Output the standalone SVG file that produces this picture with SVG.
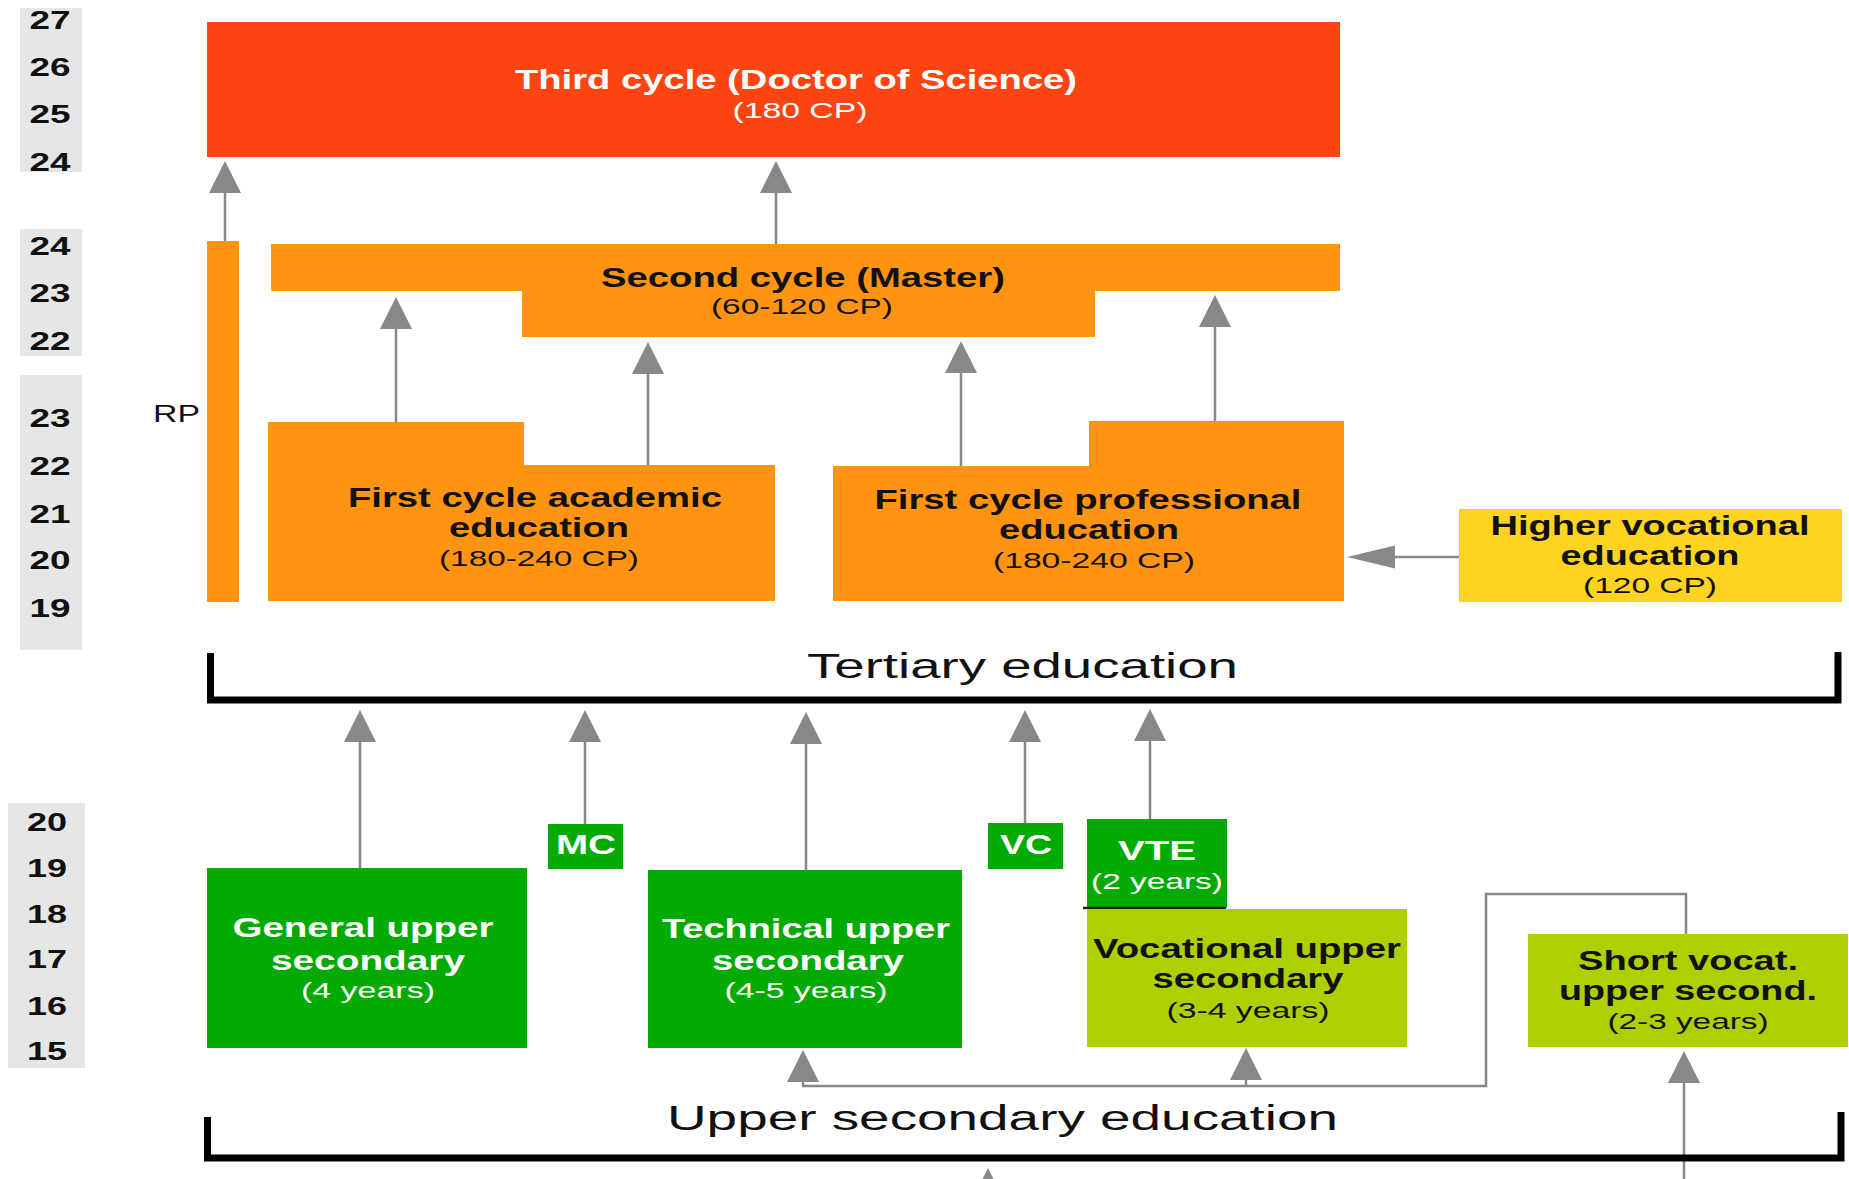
<svg xmlns="http://www.w3.org/2000/svg" width="1849" height="1179" viewBox="0 0 1849 1179">
<style>
text { font-family: "Liberation Sans", Arial, sans-serif; }
.age { font-weight: bold; font-size: 25px; fill: #111; text-anchor: middle; }
.agebg { fill: #E6E6E6; }
.lb { font-weight: bold; font-size: 27px; text-anchor: middle; }
.sub { font-size: 22px; text-anchor: middle; }
.cap { font-size: 35px; fill: #111; }
.w { fill: #fff; }
.k { fill: #111; }
.red { fill: #FE4511; }
.org { fill: #FE9411; }
.yel { fill: #FED321; }
.grn { fill: #02AA02; }
.lime { fill: #AECF01; }
.conn { stroke: #888; stroke-width: 2.5; fill: none; }
.brk { stroke: #000; stroke-width: 7; fill: none; stroke-linejoin: miter; }
</style>
<defs>
<marker id="up" markerUnits="userSpaceOnUse" orient="auto" markerWidth="32" markerHeight="32" refX="0" refY="16" overflow="visible">
<path d="M0,0 L32,16 L0,32 Z" fill="#888"/>
</marker>
<marker id="hz" markerUnits="userSpaceOnUse" orient="auto" markerWidth="48" markerHeight="23" refX="0" refY="11.5" overflow="visible">
<path d="M0,0 L48,11.5 L0,23 Z" fill="#888"/>
</marker>
</defs>
<rect width="1849" height="1179" fill="#fff"/>

<g id="ages">
<rect class="agebg" x="20" y="8" width="62" height="164"/>
<rect class="agebg" x="20" y="229" width="62" height="127"/>
<rect class="agebg" x="20" y="375" width="62" height="275"/>
<rect class="agebg" x="8" y="803" width="77" height="265"/>
<g transform="scale(1.45,1)">
<text class="age" x="34.48" y="29" textLength="28.3" lengthAdjust="spacingAndGlyphs">27</text>
<text class="age" x="34.48" y="76" textLength="28.3" lengthAdjust="spacingAndGlyphs">26</text>
<text class="age" x="34.48" y="123" textLength="28.3" lengthAdjust="spacingAndGlyphs">25</text>
<text class="age" x="34.48" y="171" textLength="28.3" lengthAdjust="spacingAndGlyphs">24</text>
<text class="age" x="34.48" y="255" textLength="28.3" lengthAdjust="spacingAndGlyphs">24</text>
<text class="age" x="34.48" y="302" textLength="28.3" lengthAdjust="spacingAndGlyphs">23</text>
<text class="age" x="34.48" y="350" textLength="28.3" lengthAdjust="spacingAndGlyphs">22</text>
<text class="age" x="34.48" y="427" textLength="28.3" lengthAdjust="spacingAndGlyphs">23</text>
<text class="age" x="34.48" y="475" textLength="28.3" lengthAdjust="spacingAndGlyphs">22</text>
<text class="age" x="34.48" y="523" textLength="28.3" lengthAdjust="spacingAndGlyphs">21</text>
<text class="age" x="34.48" y="569" textLength="28.3" lengthAdjust="spacingAndGlyphs">20</text>
<text class="age" x="34.48" y="617" textLength="28.3" lengthAdjust="spacingAndGlyphs">19</text>
<text class="age" x="32.41" y="831" textLength="27.6" lengthAdjust="spacingAndGlyphs">20</text>
<text class="age" x="32.41" y="877" textLength="27.6" lengthAdjust="spacingAndGlyphs">19</text>
<text class="age" x="32.41" y="923" textLength="27.6" lengthAdjust="spacingAndGlyphs">18</text>
<text class="age" x="32.41" y="968" textLength="27.6" lengthAdjust="spacingAndGlyphs">17</text>
<text class="age" x="32.41" y="1015" textLength="27.6" lengthAdjust="spacingAndGlyphs">16</text>
<text class="age" x="32.41" y="1060" textLength="27.6" lengthAdjust="spacingAndGlyphs">15</text>
</g>
</g>

<g id="connectors">
<path class="conn" d="M225,241 V193" marker-end="url(#up)"/>
<path class="conn" d="M776,244 V193" marker-end="url(#up)"/>
<path class="conn" d="M396,424 V329" marker-end="url(#up)"/>
<path class="conn" d="M648,466 V374" marker-end="url(#up)"/>
<path class="conn" d="M961,467 V373" marker-end="url(#up)"/>
<path class="conn" d="M1215,422 V327" marker-end="url(#up)"/>
<path class="conn" d="M1459,557 H1395" marker-end="url(#hz)"/>
<path class="conn" d="M360,869 V742" marker-end="url(#up)"/>
<path class="conn" d="M585,824 V742" marker-end="url(#up)"/>
<path class="conn" d="M806,871 V744" marker-end="url(#up)"/>
<path class="conn" d="M1025,823 V742" marker-end="url(#up)"/>
<path class="conn" d="M1150,820 V741" marker-end="url(#up)"/>
<path class="conn" d="M1686,934 V894 H1486 V1086 H802"/>
<path class="conn" d="M803,1086 V1082" marker-end="url(#up)"/>
<path class="conn" d="M1246,1086 V1080" marker-end="url(#up)"/>
<path class="conn" d="M1684,1185 V1083" marker-end="url(#up)"/>
<path class="conn" d="M988,1240 V1200" marker-end="url(#up)"/>
</g>

<g id="third-cycle">
<rect class="red" x="207" y="22" width="1133" height="135"/>
<g transform="scale(1.45,1)">
<text class="lb w" x="548.97" y="89" font-size="26" textLength="387.6" lengthAdjust="spacingAndGlyphs">Third cycle (Doctor of Science)</text>
<text class="sub w" x="551.72" y="118" textLength="93.1" lengthAdjust="spacingAndGlyphs">(180 CP)</text>
</g>
</g>

<g id="rp">
<rect class="org" x="207" y="241" width="32" height="361"/>
<text class="k" transform="scale(1.45,1)" x="105.52" y="422" font-size="24" textLength="32.4" lengthAdjust="spacingAndGlyphs">RP</text>
</g>

<g id="second-cycle">
<path class="org" d="M271,244 H1340 V291 H1095 V337 H522 V291 H271 Z"/>
<g transform="scale(1.45,1)">
<text class="lb k" x="553.79" y="287" textLength="278.6" lengthAdjust="spacingAndGlyphs">Second cycle (Master)</text>
<text class="sub k" x="553.10" y="314" textLength="125.5" lengthAdjust="spacingAndGlyphs">(60-120 CP)</text>
</g>
</g>

<g id="first-cycle-academic">
<path class="org" d="M268,422 H524 V465 H775 V601 H268 Z"/>
<g transform="scale(1.45,1)">
<text class="lb k" x="368.97" y="507" textLength="257.9" lengthAdjust="spacingAndGlyphs">First cycle academic</text>
<text class="lb k" x="371.72" y="537" textLength="124.1" lengthAdjust="spacingAndGlyphs">education</text>
<text class="sub k" x="371.72" y="566" textLength="137.9" lengthAdjust="spacingAndGlyphs">(180-240 CP)</text>
</g>
</g>

<g id="first-cycle-professional">
<path class="org" d="M833,466 H1089 V421 H1344 V601 H833 Z"/>
<g transform="scale(1.45,1)">
<text class="lb k" x="750.34" y="509" textLength="294.5" lengthAdjust="spacingAndGlyphs">First cycle professional</text>
<text class="lb k" x="751.03" y="539" textLength="124.1" lengthAdjust="spacingAndGlyphs">education</text>
<text class="sub k" x="754.48" y="568" textLength="139.3" lengthAdjust="spacingAndGlyphs">(180-240 CP)</text>
</g>
</g>

<g id="higher-vocational">
<rect class="yel" x="1459" y="509" width="383" height="93"/>
<g transform="scale(1.45,1)">
<text class="lb k" x="1137.93" y="535" textLength="220" lengthAdjust="spacingAndGlyphs">Higher vocational</text>
<text class="lb k" x="1137.93" y="565" textLength="123.4" lengthAdjust="spacingAndGlyphs">education</text>
<text class="sub k" x="1137.93" y="593" textLength="92.4" lengthAdjust="spacingAndGlyphs">(120 CP)</text>
</g>
</g>

<g id="tertiary-bracket">
<path class="brk" d="M210.5,653 V700 H1838 V652"/>
<text class="cap" transform="scale(1.45,1)" x="556.55" y="678" textLength="297.2" lengthAdjust="spacingAndGlyphs">Tertiary education</text>
</g>

<g id="general-upper-secondary">
<rect class="grn" x="207" y="868" width="320" height="180"/>
<g transform="scale(1.45,1)">
<text class="lb w" x="250.34" y="937" textLength="180" lengthAdjust="spacingAndGlyphs">General upper</text>
<text class="lb w" x="253.79" y="970" textLength="133.8" lengthAdjust="spacingAndGlyphs">secondary</text>
<text class="sub w" x="253.79" y="998" textLength="92.4" lengthAdjust="spacingAndGlyphs">(4 years)</text>
</g>
</g>

<g id="mc">
<rect class="grn" x="548" y="824" width="75" height="45"/>
<text class="lb w" transform="scale(1.45,1)" x="404.14" y="854" textLength="41.4" lengthAdjust="spacingAndGlyphs">MC</text>
</g>

<g id="technical-upper-secondary">
<rect class="grn" x="648" y="870" width="314" height="178"/>
<g transform="scale(1.45,1)">
<text class="lb w" x="555.86" y="938" textLength="198.6" lengthAdjust="spacingAndGlyphs">Technical upper</text>
<text class="lb w" x="557.24" y="970" textLength="132.4" lengthAdjust="spacingAndGlyphs">secondary</text>
<text class="sub w" x="555.86" y="998" textLength="112.4" lengthAdjust="spacingAndGlyphs">(4-5 years)</text>
</g>
</g>

<g id="vc">
<rect class="grn" x="988" y="823" width="75" height="46"/>
<text class="lb w" transform="scale(1.45,1)" x="707.59" y="854" textLength="35.9" lengthAdjust="spacingAndGlyphs">VC</text>
</g>

<g id="vte">
<rect class="grn" x="1087" y="819" width="140" height="89"/>
<line x1="1083" y1="908" x2="1226" y2="908" stroke="#222" stroke-width="2.5"/>
<g transform="scale(1.45,1)">
<text class="lb w" x="797.93" y="860" textLength="53.8" lengthAdjust="spacingAndGlyphs">VTE</text>
<text class="sub w" x="797.93" y="889" textLength="91" lengthAdjust="spacingAndGlyphs">(2 years)</text>
</g>
</g>

<g id="vocational-upper-secondary">
<rect class="lime" x="1087" y="909" width="320" height="138"/>
<g transform="scale(1.45,1)">
<text class="lb k" x="860" y="958" textLength="212.4" lengthAdjust="spacingAndGlyphs">Vocational upper</text>
<text class="lb k" x="860.69" y="988" textLength="131.7" lengthAdjust="spacingAndGlyphs">secondary</text>
<text class="sub k" x="860.69" y="1018" textLength="112.4" lengthAdjust="spacingAndGlyphs">(3-4 years)</text>
</g>
</g>

<g id="short-vocational">
<rect class="lime" x="1528" y="934" width="320" height="113"/>
<g transform="scale(1.45,1)">
<text class="lb k" x="1164.14" y="970" textLength="151.7" lengthAdjust="spacingAndGlyphs">Short vocat.</text>
<text class="lb k" x="1164.14" y="1000" textLength="177.9" lengthAdjust="spacingAndGlyphs">upper second.</text>
<text class="sub k" x="1164.14" y="1029" textLength="111" lengthAdjust="spacingAndGlyphs">(2-3 years)</text>
</g>
</g>

<g id="upper-secondary-bracket">
<path class="brk" d="M207.5,1117 V1158 H1841 V1112"/>
<text class="cap" transform="scale(1.45,1)" x="460" y="1130" textLength="462.8" lengthAdjust="spacingAndGlyphs">Upper secondary education</text>
</g>
</svg>
